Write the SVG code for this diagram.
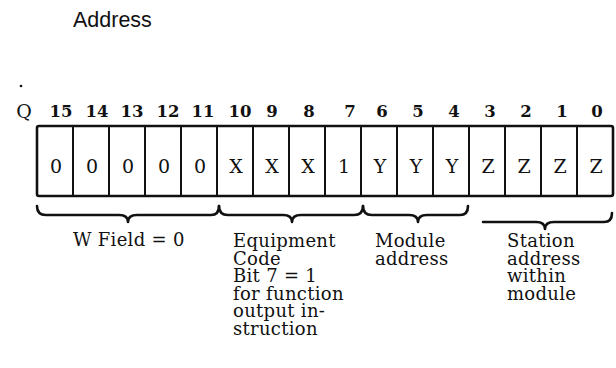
<svg xmlns="http://www.w3.org/2000/svg" width="616" height="368" viewBox="0 0 616 368">
<style>
.t{font-family:"DejaVu Serif","Liberation Serif",serif;font-size:18px;letter-spacing:0.3px;fill:#111}
.c{font-family:"DejaVu Serif","Liberation Serif",serif;font-size:19px;fill:#111;text-anchor:middle}
.b{font-family:"DejaVu Serif","Liberation Serif",serif;font-size:16.5px;font-weight:bold;fill:#111;text-anchor:middle}
.cell{fill:none;stroke:#111;stroke-width:2}
.br{fill:none;stroke:#111;stroke-width:2.6;stroke-linecap:round;stroke-linejoin:round}
</style>
<rect width="616" height="368" fill="#fff"/>
<g id="title"><text x="73" y="27" style="font-family:'Liberation Sans',Arial,sans-serif;font-size:21.5px;fill:#111">Address</text></g>
<circle cx="21" cy="86" r="1.3" fill="#111"/>
<g id="bitnumbers">
<text x="24" y="118" class="b" style="font-weight:normal;font-size:19px">Q</text>
<text x="61" y="117" class="b">15</text>
<text x="97" y="117" class="b">14</text>
<text x="132" y="117" class="b">13</text>
<text x="168" y="117" class="b">12</text>
<text x="203" y="117" class="b">11</text>
<text x="240" y="117" class="b">10</text>
<text x="272" y="117" class="b">9</text>
<text x="309" y="117" class="b">8</text>
<text x="350" y="117" class="b">7</text>
<text x="382" y="117" class="b">6</text>
<text x="418" y="117" class="b">5</text>
<text x="454" y="117" class="b">4</text>
<text x="490" y="117" class="b">3</text>
<text x="526" y="117" class="b">2</text>
<text x="562" y="117" class="b">1</text>
<text x="597" y="117" class="b">0</text>
</g>
<g id="register">
<rect x="37" y="126" width="576" height="70" rx="2" fill="none" stroke="#111" stroke-width="2.6"/>
<path class="cell" d="M73,126V196M109,126V196M145,126V196M181,126V196M217,126V196M253,126V196M289,126V196M325,126V196M361,126V196M397,126V196M433,126V196M469,126V196M505,126V196M541,126V196M577,126V196"/>
<text x="56" y="173" class="c">0</text>
<text x="92" y="173" class="c">0</text>
<text x="128" y="173" class="c">0</text>
<text x="164" y="173" class="c">0</text>
<text x="200" y="173" class="c">0</text>
<text x="236" y="173" class="c">X</text>
<text x="272" y="173" class="c">X</text>
<text x="308" y="173" class="c">X</text>
<text x="344" y="173" class="c">1</text>
<text x="380" y="173" class="c">Y</text>
<text x="416" y="173" class="c">Y</text>
<text x="452" y="173" class="c">Y</text>
<text x="488" y="173" class="c">Z</text>
<text x="524" y="173" class="c">Z</text>
<text x="560" y="173" class="c">Z</text>
<text x="596" y="173" class="c">Z</text>
</g>
<g id="connectors">
<path class="br" d="M37,206 Q37,215 46,215 L119,215 Q128,215 128,222 Q128,215 137,215 L211,215 Q219,215 219,206"/>
<path class="br" d="M219,206 Q219,215 228,215 L283,215 Q292,215 292,222 Q292,215 301,215 L354,215 Q363,215 363,206"/>
<path class="br" d="M363,206 Q363,215 372,215 L409,215 Q418,215 418,222 Q418,215 427,215 L460,215 Q468,215 468,206"/>
<path class="br" d="M483,222 L536,222 Q545,222 545,229 Q545,222 554,222 L604,222 Q612,222 612,213"/>
</g>
<g id="wfield"><text x="73" y="246" class="t">W Field = 0</text></g>
<g id="equipment"><text x="233" y="247" class="t">Equipment<tspan x="233" dy="17.5">Code</tspan><tspan x="233" dy="17.5">Bit 7 = 1</tspan><tspan x="233" dy="17.5">for function</tspan><tspan x="233" dy="17.5">output in-</tspan><tspan x="233" dy="17.5">struction</tspan></text></g>
<g id="module"><text x="375" y="247" class="t">Module<tspan x="375" dy="17.5">address</tspan></text></g>
<g id="station"><text x="507" y="247" class="t">Station<tspan x="507" dy="17.5">address</tspan><tspan x="507" dy="17.5">within</tspan><tspan x="507" dy="17.5">module</tspan></text></g>
</svg>
